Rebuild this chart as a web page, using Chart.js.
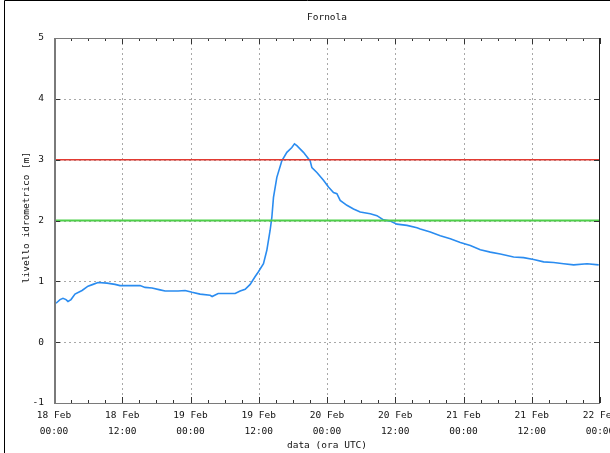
<!DOCTYPE html>
<html>
<head>
<meta charset="utf-8">
<title>Fornola</title>
<script src="https://cdn.jsdelivr.net/npm/chart.js@4/dist/chart.umd.min.js"></script>
<style>
  html, body { margin: 0; padding: 0; background: #fff; }
  #wrap { width: 610px; height: 453px; position: relative; }
</style>
</head>
<body>
<div id="wrap"><canvas id="c" width="610" height="453"></canvas></div>
<script>
// Station and axis texts
const chartTitle = 'Fornola';
const xAxisTitle = 'data (ora UTC)';
const yAxisTitle = 'livello idrometrico [m]';

// x axis: hours since 18 Feb 00:00 UTC, labelled every 12 h
const dayLabels  = ['18 Feb', '18 Feb', '19 Feb', '19 Feb', '20 Feb', '20 Feb', '21 Feb', '21 Feb', '22 Feb'];
const timeLabels = ['00:00', '12:00', '00:00', '12:00', '00:00', '12:00', '00:00', '12:00', '00:00'];

// Hydrometric level readings (m)
const hours  = [0.35, 1.06, 1.58, 2.11, 2.46, 2.99, 3.69, 4.93, 5.98, 6.86, 7.74, 9.33, 10.73, 11.61,
                13.37, 15.13, 16.01, 17.24, 18.65, 19.53, 21.82, 23.05, 24.28, 25.69, 27.45, 27.80,
                28.86, 30.09, 31.85, 32.73, 33.61, 34.49, 35.37, 35.89, 36.83, 37.42, 38.00, 38.30,
                38.59, 39.18, 40.06, 40.94, 41.82, 42.28, 42.70, 43.86, 45.04, 45.34, 46.22, 47.38,
                48.26, 49.14, 49.74, 50.32, 51.50, 52.66, 53.84, 55.60, 56.78, 57.94, 59.12, 60.30,
                62.06, 63.82, 64.40, 66.16, 67.92, 69.68, 71.44, 73.20, 74.95, 76.71, 78.47, 80.81,
                82.57, 84.33, 86.09, 87.85, 89.61, 91.37, 93.73, 95.77];
const levels = [0.64, 0.70, 0.72, 0.70, 0.67, 0.70, 0.79, 0.85, 0.92, 0.95, 0.98, 0.97, 0.95, 0.93,
                0.93, 0.93, 0.90, 0.89, 0.86, 0.84, 0.84, 0.85, 0.82, 0.79, 0.77, 0.75,
                0.80, 0.80, 0.80, 0.84, 0.87, 0.95, 1.08, 1.15, 1.29, 1.51, 1.84, 2.05,
                2.38, 2.71, 2.98, 3.12, 3.20, 3.26, 3.23, 3.12, 2.98, 2.87, 2.79, 2.66,
                2.55, 2.46, 2.44, 2.33, 2.25, 2.19, 2.14, 2.11, 2.08, 2.01, 1.99, 1.94,
                1.92, 1.88, 1.86, 1.81, 1.75, 1.70, 1.64, 1.59, 1.52, 1.48, 1.45, 1.40,
                1.39, 1.36, 1.32, 1.31, 1.29, 1.27, 1.29, 1.27];

// Alert thresholds (m)
const thresholdAlert = 3;
const thresholdWarn  = 2;

const xMin = 0, xMax = 96, yMin = -1, yMax = 5;
const FONT = '"DejaVu Sans Mono", "Liberation Mono", monospace';

const series = hours.map((h, i) => ({ x: h, y: levels[i] }));
const hLine = v => [{ x: xMin, y: v }, { x: xMax, y: v }];

// Frame, dotted grid, tick marks and texts drawn around the plot area
const decorations = {
  id: 'decorations',
  beforeDatasetsDraw(chart) {
    const { ctx, chartArea: a, scales: { x, y } } = chart;
    ctx.save();
    ctx.strokeStyle = '#a8a8a8';
    ctx.lineWidth = 1;
    ctx.setLineDash([2, 3]);
    for (let v = xMin + 12; v < xMax; v += 12) {
      const px = Math.round(x.getPixelForValue(v)) + 0.5;
      ctx.beginPath(); ctx.moveTo(px, a.top); ctx.lineTo(px, a.bottom); ctx.stroke();
    }
    for (let v = yMin + 1; v < yMax; v += 1) {
      const py = Math.round(y.getPixelForValue(v)) + 0.5;
      ctx.beginPath(); ctx.moveTo(a.left, py); ctx.lineTo(a.right, py); ctx.stroke();
    }
    ctx.restore();
  },
  afterDraw(chart) {
    const { ctx, chartArea: a, scales: { x, y } } = chart;
    ctx.save();
    // tick marks
    ctx.strokeStyle = '#333';
    ctx.lineWidth = 1;
    for (let v = xMin; v <= xMax; v += 3) {
      const len = v % 12 === 0 ? 6 : 3;
      const px = Math.round(x.getPixelForValue(v)) + 0.5;
      ctx.beginPath();
      ctx.moveTo(px, a.bottom); ctx.lineTo(px, a.bottom - len);
      ctx.moveTo(px, a.top); ctx.lineTo(px, a.top + len);
      ctx.stroke();
    }
    for (let v = yMin; v <= yMax; v += 1) {
      const py = Math.round(y.getPixelForValue(v)) + 0.5;
      ctx.beginPath();
      ctx.moveTo(a.left, py); ctx.lineTo(a.left + 6, py);
      ctx.moveTo(a.right, py); ctx.lineTo(a.right - 6, py);
      ctx.stroke();
    }
    // plot frame
    ctx.strokeStyle = '#7a7a7a';
    ctx.lineWidth = 1;
    ctx.strokeRect(a.left + 0.5, a.top + 0.5, a.right - a.left - 1, a.bottom - a.top);
    ctx.lineWidth = 2;
    ctx.beginPath(); ctx.moveTo(a.left + 1, a.top); ctx.lineTo(a.left + 1, a.bottom + 1); ctx.stroke();
    ctx.strokeStyle = '#222';
    ctx.lineWidth = 1;
    ctx.beginPath(); ctx.moveTo(a.right - 0.5, a.top); ctx.lineTo(a.right - 0.5, a.bottom); ctx.stroke();
    // outer page border
    ctx.strokeStyle = '#000';
    ctx.beginPath();
    ctx.moveTo(4.5, chart.height); ctx.lineTo(4.5, 0.5); ctx.lineTo(chart.width, 0.5);
    ctx.stroke();
    // texts
    ctx.fillStyle = '#111';
    ctx.font = '9.5px ' + FONT;
    ctx.textAlign = 'center';
    ctx.textBaseline = 'middle';
    ctx.fillText(chartTitle, (a.left + a.right) / 2, 18);
    ctx.fillText(xAxisTitle, (a.left + a.right) / 2, 446);
    ctx.translate(27, (a.top + a.bottom) / 2 - 3);
    ctx.rotate(-Math.PI / 2);
    ctx.fillText(yAxisTitle, 0, 0);
    ctx.restore();
  }
};

new Chart(document.getElementById('c'), {
  type: 'line',
  data: {
    datasets: [
      { data: hLine(thresholdAlert), borderColor: '#e23a32', borderWidth: 1.5, pointRadius: 0 },
      { data: hLine(thresholdWarn),  borderColor: '#4fd04a', borderWidth: 2,   pointRadius: 0 },
      { data: series, borderColor: '#2a8cf0', borderWidth: 1.6, pointRadius: 0, tension: 0 }
    ]
  },
  options: {
    responsive: false,
    animation: false,
    events: [],
    layout: { padding: { top: 38, right: 10, left: 0, bottom: 0 } },
    plugins: { legend: { display: false }, tooltip: { enabled: false }, title: { display: false } },
    scales: {
      x: {
        type: 'linear', min: xMin, max: xMax,
        grid: { display: false, drawTicks: false }, border: { display: false },
        afterFit(s) { s.height = 50; s.paddingLeft = 0; s.paddingRight = 0; },
        ticks: {
          stepSize: 12, autoSkip: false, maxRotation: 0, minRotation: 0, padding: 4,
          color: '#111', font: { family: FONT, size: 9.5, lineHeight: 1.7 },
          callback: v => { const i = Math.round(v / 12); return [dayLabels[i], timeLabels[i]]; }
        }
      },
      y: {
        type: 'linear', min: yMin, max: yMax,
        grid: { display: false, drawTicks: false }, border: { display: false },
        afterFit(s) { s.width = 54; s.paddingTop = 0; s.paddingBottom = 0; },
        ticks: {
          stepSize: 1, padding: 10, color: '#111',
          font: { family: FONT, size: 9.5 }
        }
      }
    }
  },
  plugins: [decorations]
});
</script>
</body>
</html>
